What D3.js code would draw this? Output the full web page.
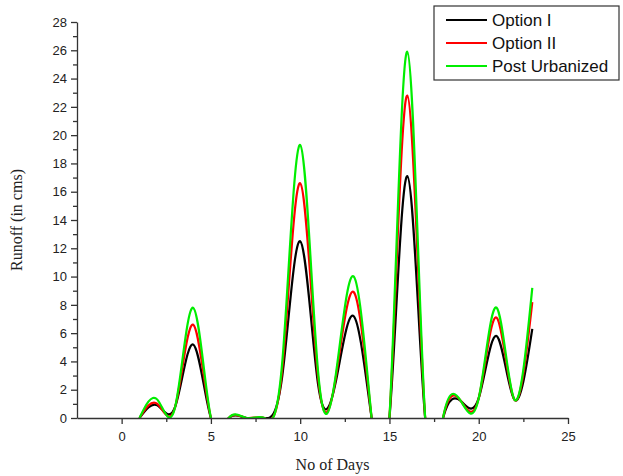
<!DOCTYPE html>
<html><head><meta charset="utf-8">
<script src="https://cdn.jsdelivr.net/npm/d3@7"></script>
<style>body{margin:0;background:#fff;}svg{display:block;}</style>
</head><body>
<script>
const days = [1,2,3,4,5,6,7,8,9,10,11,12,13,14,15,16,17,18,19,20,21,22,23];
const optionI  = [0,0.9,0.8,5.2,0,0,0,0,3.0,12.5,2.4,2.6,7.2,0,0,17.1,0,0,1.2,1.4,5.8,1.3,6.3];
const optionII = [0,1.0,0.8,6.6,0,0,0,0,3.5,16.6,2.9,2.9,8.9,0,0,22.8,0,0,1.2,1.4,7.1,1.3,8.2];
const postUrb  = [0,1.3,0.8,7.8,0,0,0,0,4.0,19.3,3.3,3.1,10.0,0,0,25.9,0,0,1.2,1.4,7.8,1.3,9.2];
const seriesNames = ["Option I","Option II","Post Urbanized"];
const seriesColors = ["#000000","#ff0000","#00ee00"];
const xTicks = [0,5,10,15,20,25];
const yTicks = [0,2,4,6,8,10,12,14,16,18,20,22,24,26,28];

const W=623,H=476;
const L=77,R=568,T=22,B=418;
const svg=d3.select("body").append("svg").attr("width",W).attr("height",H);
const x=d3.scaleLinear().domain([-2.5,25]).range([L,R]);
const y=d3.scaleLinear().domain([0,28]).range([B,T]);

svg.append("clipPath").attr("id","clip").append("rect")
  .attr("x",L).attr("y",T).attr("width",R-L).attr("height",B-T);

const all=[optionI,optionII,postUrb];
const line=d3.line().x((d,i)=>x(days[i])).y(d=>y(d)).curve(d3.curveNatural);
const g=svg.append("g").attr("clip-path","url(#clip)");
all.forEach((s,k)=>{
  g.append("path").attr("d",line(s)).attr("fill","none")
   .attr("stroke",seriesColors[k]).attr("stroke-width",2.2);
});

// axes
const xAxis=d3.axisBottom(x).tickValues(xTicks).tickSize(6).tickSizeOuter(0);
const gx=svg.append("g").attr("transform",`translate(0,${B})`).call(xAxis);
svg.append("g").attr("transform",`translate(0,${B})`)
  .call(d3.axisBottom(x).tickValues([2.5,7.5,12.5,17.5,22.5]).tickSize(4).tickFormat("").tickSizeOuter(0))
  .select(".domain").remove();
const yAxis=d3.axisLeft(y).tickValues(yTicks).tickSize(6).tickSizeOuter(0);
const gy=svg.append("g").attr("transform",`translate(${L},0)`).call(yAxis);
svg.append("g").attr("transform",`translate(${L},0)`)
  .call(d3.axisLeft(y).tickValues(d3.range(1,28,2)).tickSize(4).tickFormat("").tickSizeOuter(0))
  .select(".domain").remove();
svg.selectAll(".tick line,.domain").attr("stroke","#333").attr("stroke-width",1.3);
svg.selectAll(".tick text").attr("font-family","Liberation Sans, Arial, sans-serif").attr("font-size",13).attr("fill","#222");
gx.selectAll(".tick text").attr("dy","1.1em");
gy.selectAll(".tick text").attr("dx","-1px");

svg.append("text").attr("x",(L+R)/2+10).attr("y",470).attr("text-anchor","middle")
  .attr("font-family","Liberation Serif, Times New Roman, serif").attr("font-size",16).attr("fill","#222").text("No of Days");
svg.append("text").attr("transform","translate(22,220) rotate(-90)").attr("text-anchor","middle")
  .attr("font-family","Liberation Serif, Times New Roman, serif").attr("font-size",16).attr("fill","#222").text("Runoff (in cms)");

// legend
const lg=svg.append("g");
lg.append("rect").attr("x",434).attr("y",6).attr("width",185).attr("height",74)
  .attr("fill","#fff").attr("stroke","#333").attr("stroke-width",1.2);
seriesNames.forEach((n,i)=>{
  const yy=20+i*23;
  lg.append("line").attr("x1",446).attr("x2",487).attr("y1",yy).attr("y2",yy)
    .attr("stroke",seriesColors[i]).attr("stroke-width",2);
  lg.append("text").attr("x",492).attr("y",yy+6).attr("font-family","Liberation Sans, Arial, sans-serif")
    .attr("font-size",17).attr("fill","#111").text(n);
});
</script>
</body></html>
